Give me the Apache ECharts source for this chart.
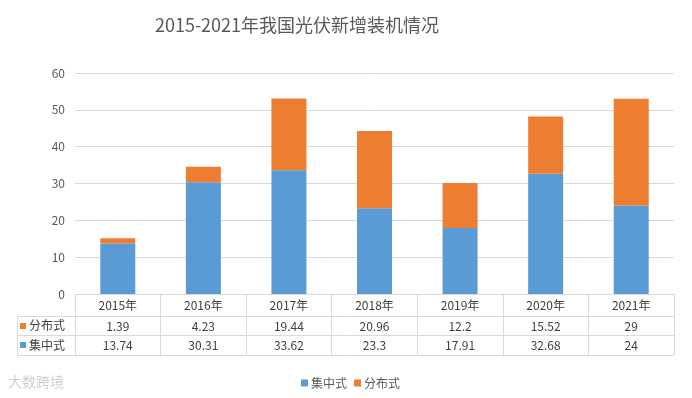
<!DOCTYPE html>
<html><head><meta charset="utf-8">
<script src="https://cdn.jsdelivr.net/npm/echarts@6/dist/echarts.min.js"></script>
<style>html,body{margin:0;padding:0;background:#fff}#c{width:692px;height:398px}</style>
</head><body><div id="c"></div>
<script>
const years = ['2015年','2016年','2017年','2018年','2019年','2020年','2021年'];
const distributed = [1.39, 4.23, 19.44, 20.96, 12.2, 15.52, 29];
const centralized = [13.74, 30.31, 33.62, 23.3, 17.91, 32.68, 24];
const yTicks = [0, 10, 20, 30, 40, 50, 60];

const font = '"Noto Sans CJK SC", sans-serif';
const txt = '#595959';
const grid = '#d9d9d9';
const blue = '#5B9BD5', orange = '#ED7D31';
const W = 692, H = 398;
const gL = 75, gR = 18, gT = 73, gB = 104;
const plotBottom = H - gB;
const row1 = plotBottom + 22, row2 = plotBottom + 41, row3 = plotBottom + 61;
const tableLeft = 17;

const chart = echarts.init(document.getElementById('c'));
const baseX = {type:'category', data: years, position:'bottom', gridIndex:0};
chart.setOption({
  animation:false,
  textStyle:{fontFamily:font},
  title:{text:'2015-2021年我国光伏新增装机情况', left:292, top:11, textAlign:'center',
    textStyle:{fontSize:18, fontWeight:'normal', color:txt, fontFamily:font}},
  legend:{data:['集中式','分布式'], left:296, top:372, itemWidth:7, itemHeight:7, itemGap:7,
    icon:'rect', textStyle:{fontSize:12, color:txt, fontFamily:font, padding:[0,0,0,-2]}},
  grid:{left:gL, right:gR, top:gT, bottom:gB, containLabel:false},
  yAxis:{type:'value', min:yTicks[0], max:yTicks[yTicks.length-1], interval:10,
    axisLine:{show:false}, axisTick:{show:false},
    axisLabel:{color:txt, fontSize:12, margin:10, fontFamily:font},
    splitLine:{lineStyle:{color:grid, width:1}}},
  xAxis:[
    Object.assign({}, baseX, {
      axisLine:{lineStyle:{color:grid}},
      axisTick:{show:true, length:row3-plotBottom, lineStyle:{color:grid}},
      axisLabel:{color:'#404040', fontSize:12, margin:5, fontFamily:font}
    }),
    Object.assign({}, baseX, {offset:row1-plotBottom,
      axisLine:{show:false}, axisTick:{show:false},
      axisLabel:{color:'#404040', fontSize:12, margin:4, fontFamily:font,
        formatter:(v,i)=>String(distributed[i])}
    }),
    Object.assign({}, baseX, {offset:row2-plotBottom,
      axisLine:{show:false}, axisTick:{show:false},
      axisLabel:{color:'#404040', fontSize:12, margin:4, fontFamily:font,
        formatter:(v,i)=>String(centralized[i])}
    })
  ],
  series:[
    {name:'集中式', type:'bar', stack:'t', data:centralized, barWidth:35, itemStyle:{color:blue}},
    {name:'分布式', type:'bar', stack:'t', data:distributed, barWidth:35, itemStyle:{color:orange}}
  ],
  graphic:[
    {type:'line', shape:{x1:tableLeft, y1:row1+0.5, x2:W-gR, y2:row1+0.5}, style:{stroke:grid, lineWidth:1}},
    {type:'line', shape:{x1:tableLeft, y1:row2+0.5, x2:W-gR, y2:row2+0.5}, style:{stroke:grid, lineWidth:1}},
    {type:'line', shape:{x1:tableLeft, y1:row3+0.5, x2:W-gR, y2:row3+0.5}, style:{stroke:grid, lineWidth:1}},
    {type:'line', shape:{x1:tableLeft+0.5, y1:row1, x2:tableLeft+0.5, y2:row3}, style:{stroke:grid, lineWidth:1}},
    {type:'rect', shape:{x:20, y:row1+7, width:6, height:6}, style:{fill:orange}},
    {type:'text', x:29, y:(row1+row2)/2, style:{text:'分布式', fill:'#404040', font:'12px '+font, textVerticalAlign:'middle'}},
    {type:'rect', shape:{x:20, y:row2+7, width:6, height:6}, style:{fill:blue}},
    {type:'text', x:29, y:(row2+row3)/2, style:{text:'集中式', fill:'#404040', font:'12px '+font, textVerticalAlign:'middle'}},
    {type:'text', x:8, y:382, style:{text:'大数跨境', fill:'#d0d0d0', font:'14px '+font, textVerticalAlign:'middle'}}
  ]
});
</script></body></html>
